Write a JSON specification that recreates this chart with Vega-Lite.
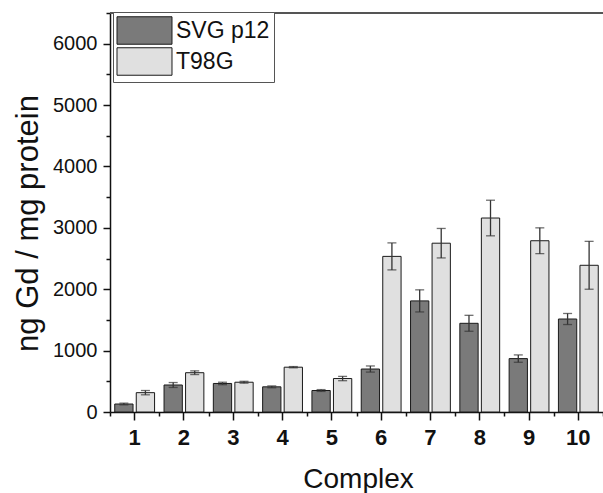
{
  "$schema": "https://vega.github.io/schema/vega-lite/v6.json",
  "width": 493,
  "height": 399,
  "autosize": {"type": "none"},
  "padding": {"left": 110, "top": 13, "right": 0, "bottom": 81},
  "config": {"font": "Liberation Sans", "view": {"stroke": null}},
  "data": {
    "values": [
      {"complex": 1, "cell": "SVG p12", "value": 130, "err": 15},
      {"complex": 1, "cell": "T98G", "value": 315, "err": 35},
      {"complex": 2, "cell": "SVG p12", "value": 440, "err": 40},
      {"complex": 2, "cell": "T98G", "value": 640, "err": 30},
      {"complex": 3, "cell": "SVG p12", "value": 465, "err": 20},
      {"complex": 3, "cell": "T98G", "value": 485, "err": 15},
      {"complex": 4, "cell": "SVG p12", "value": 410, "err": 15},
      {"complex": 4, "cell": "T98G", "value": 730, "err": 10},
      {"complex": 5, "cell": "SVG p12", "value": 350, "err": 15},
      {"complex": 5, "cell": "T98G", "value": 545, "err": 35},
      {"complex": 6, "cell": "SVG p12", "value": 700, "err": 50},
      {"complex": 6, "cell": "T98G", "value": 2535, "err": 220},
      {"complex": 7, "cell": "SVG p12", "value": 1810, "err": 180},
      {"complex": 7, "cell": "T98G", "value": 2750, "err": 240},
      {"complex": 8, "cell": "SVG p12", "value": 1445, "err": 130},
      {"complex": 8, "cell": "T98G", "value": 3160, "err": 290},
      {"complex": 9, "cell": "SVG p12", "value": 870, "err": 60},
      {"complex": 9, "cell": "T98G", "value": 2790, "err": 210},
      {"complex": 10, "cell": "SVG p12", "value": 1515, "err": 90},
      {"complex": 10, "cell": "T98G", "value": 2390, "err": 390}
    ]
  },
  "resolve": {"axis": {"x": "independent", "y": "independent"}},
  "layer": [
    {
      "mark": {"type": "bar", "stroke": "#1a1a1a", "strokeWidth": 1},
      "encoding": {
        "x": {
          "field": "complex",
          "type": "ordinal",
          "scale": {"paddingInner": 0, "paddingOuter": 0},
          "axis": {
            "title": "Complex",
            "orient": "bottom",
            "labelAngle": 0,
            "labelFontSize": 22,
            "labelFontWeight": "bold",
            "labelColor": "#111",
            "labelPadding": 7,
            "ticks": true,
            "tickSize": 8,
            "tickColor": "#111",
            "tickWidth": 1.5,
            "domainColor": "#111",
            "domainWidth": 1.5,
            "titleFontSize": 28,
            "titleFontWeight": "normal",
            "titleColor": "#111",
            "titleX": 248,
            "titleY": 75,
            "titleBaseline": "alphabetic"
          }
        },
        "xOffset": {
          "field": "cell",
          "type": "nominal",
          "sort": ["SVG p12", "T98G"],
          "scale": {"paddingInner": 0.15, "paddingOuter": 0.22}
        },
        "y": {
          "field": "value",
          "type": "quantitative",
          "title": "ng Gd / mg protein",
          "scale": {"domain": [0, 6500], "nice": false},
          "axis": {
            "orient": "left",
            "values": [0, 1000, 2000, 3000, 4000, 5000, 6000],
            "format": "d",
            "ticks": true,
            "tickSize": 7,
            "labelFontSize": 20,
            "labelColor": "#111",
            "labelPadding": 6,
            "tickColor": "#111",
            "tickWidth": 1.5,
            "domainColor": "#111",
            "domainWidth": 1.5,
            "grid": false,
            "titleFontSize": 31,
            "titleFontWeight": "normal",
            "titleColor": "#111",
            "titleAngle": -90,
            "titleX": -73,
            "titleY": 210,
            "titleAlign": "center",
            "titleBaseline": "alphabetic"
          }
        },
        "fill": {
          "field": "cell",
          "type": "nominal",
          "scale": {"domain": ["SVG p12", "T98G"], "range": ["#7a7a7a", "#e0e0e0"]},
          "legend": {
            "title": null,
            "orient": "none",
            "legendX": 3,
            "legendY": -1,
            "symbolType": "M-2,-1H2V1H-2Z",
            "symbolSize": 756,
            "symbolOffset": 13,
            "symbolStrokeColor": "#1a1a1a",
            "symbolStrokeWidth": 1,
            "labelFontSize": 23,
            "labelColor": "#111",
            "labelOffset": 17,
            "padding": 4,
            "rowPadding": -2,
            "strokeColor": "#555",
            "fillColor": "white"
          }
        }
      }
    },
    {
      "mark": {"type": "errorbar", "ticks": {"size": 9}, "color": "#333", "thickness": 1.3},
      "encoding": {
        "x": {
          "field": "complex",
          "type": "ordinal",
          "axis": {
            "orient": "bottom",
            "tickBand": "extent",
            "labels": false,
            "domain": false,
            "title": null,
            "ticks": true,
            "tickSize": 4,
            "tickColor": "#111",
            "tickWidth": 1.5
          }
        },
        "xOffset": {"field": "cell", "type": "nominal", "sort": ["SVG p12", "T98G"]},
        "y": {"field": "value", "type": "quantitative", "axis": null},
        "yError": {"field": "err"}
      }
    },
    {
      "mark": {"type": "rule", "color": "#555", "strokeWidth": 2},
      "encoding": {
        "y": {
          "datum": 6500,
          "axis": {
            "orient": "left",
            "values": [500, 1500, 2500, 3500, 4500, 5500, 6500],
            "labels": false,
            "domain": false,
            "title": null,
            "grid": false,
            "ticks": true,
            "tickSize": 4,
            "tickColor": "#111",
            "tickWidth": 1.5
          }
        }
      }
    }
  ]
}
